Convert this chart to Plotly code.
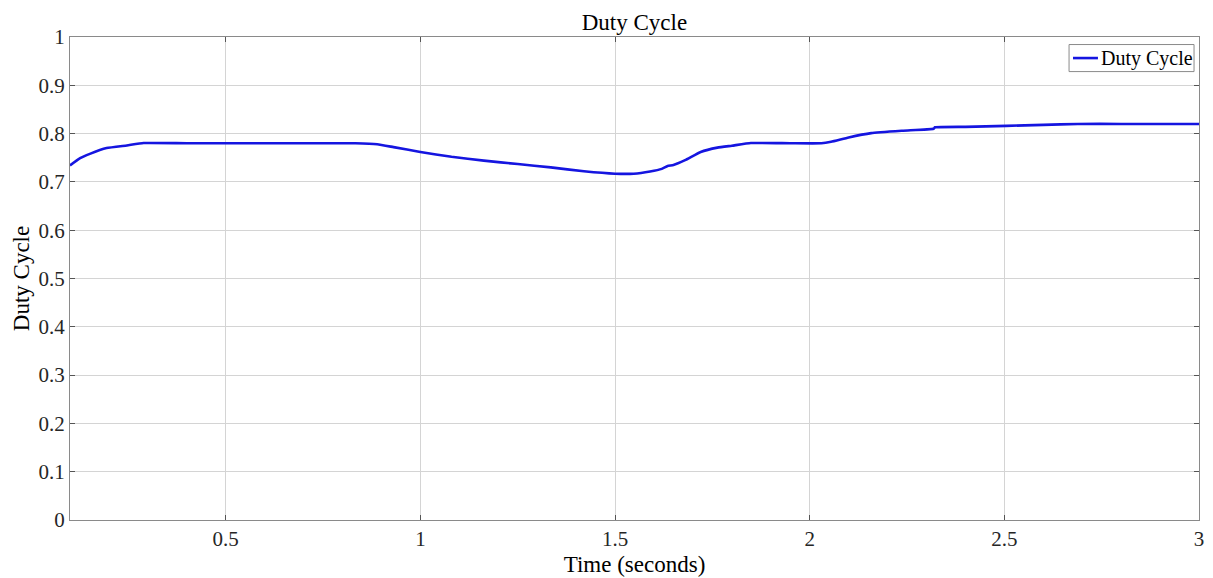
import plotly.graph_objects as go

time_s = [0.1, 0.126, 0.151, 0.194, 0.246, 0.289, 0.4, 0.6, 0.833, 0.889, 0.931, 1.0, 1.08, 1.163,
          1.25, 1.335, 1.42, 1.5, 1.548, 1.59, 1.62, 1.635, 1.65, 1.68, 1.72, 1.763, 1.8, 1.849,
          1.95, 2.03, 2.055, 2.1, 2.158, 2.24, 2.318, 2.322, 2.4, 2.505, 2.6, 2.689, 2.8, 3.0]
duty = [0.734, 0.749, 0.758, 0.770, 0.7755, 0.7805, 0.780, 0.780, 0.780, 0.778, 0.772, 0.762, 0.752, 0.744,
        0.737, 0.730, 0.722, 0.717, 0.717, 0.7216, 0.727, 0.733, 0.735, 0.745, 0.762, 0.771, 0.775, 0.7805,
        0.780, 0.780, 0.783, 0.792, 0.801, 0.806, 0.810, 0.813, 0.814, 0.816, 0.818, 0.820, 0.820, 0.820]

x_ticks = [0.5, 1, 1.5, 2, 2.5, 3]
x_tick_labels = ["0.5", "1", "1.5", "2", "2.5", "3"]
y_ticks = [0, 0.1, 0.2, 0.3, 0.4, 0.5, 0.6, 0.7, 0.8, 0.9, 1]
y_tick_labels = ["0", "0.1", "0.2", "0.3", "0.4", "0.5", "0.6", "0.7", "0.8", "0.9", "1"]
series_name = "Duty Cycle"

font = "Liberation Serif, Times New Roman, serif"
line_color = "#1515e0"

fig = go.Figure()
fig.add_trace(go.Scatter(x=time_s, y=duty, mode="lines", name=series_name, showlegend=False,
                         line=dict(color=line_color, width=2.6, shape="spline", smoothing=0.4)))

axis_common = dict(showline=True, linecolor="#8a8a8a", linewidth=1, mirror="ticks",
                   ticks="inside", ticklen=5, tickcolor="#555555", automargin=False,
                   showgrid=True, gridcolor="#d4d4d4", gridwidth=1, zeroline=False,
                   tickfont=dict(family=font, size=21, color="#262626"))

# legend box (MATLAB-style, compact)
fig.add_shape(type="rect", xref="paper", yref="paper", x0=0.8849, x1=0.9956, y0=0.9284, y1=0.9844,
              line=dict(color="#8a8a8a", width=1), fillcolor="white", layer="above")
fig.add_shape(type="line", xref="paper", yref="paper", x0=0.8884, x1=0.9105, y0=0.9564, y1=0.9564,
              line=dict(color=line_color, width=2.6), layer="above")
fig.add_annotation(xref="paper", yref="paper", x=0.9115, y=0.9564, xanchor="left", yanchor="middle",
                   text=series_name, showarrow=False,
                   font=dict(family=font, size=20, color="#000000"))

fig.update_layout(
    width=1213, height=578,
    margin=dict(l=70, r=14, t=37, b=58),
    paper_bgcolor="white", plot_bgcolor="white",
    title=dict(text="Duty Cycle", x=0.523, xanchor="center", y=0.962, yanchor="middle",
               font=dict(family=font, size=23, color="#000000")),
    xaxis=dict(range=[0.1, 3], tickvals=x_ticks, ticktext=x_tick_labels,
               title=dict(text="Time (seconds)", font=dict(family=font, size=23, color="#000000"), standoff=5),
               **axis_common),
    yaxis=dict(range=[0, 1], tickvals=y_ticks, ticktext=y_tick_labels,
               title=dict(text="Duty Cycle", font=dict(family=font, size=23, color="#000000"), standoff=2),
               **axis_common),
    showlegend=False,
)

fig.write_html("out.html")
